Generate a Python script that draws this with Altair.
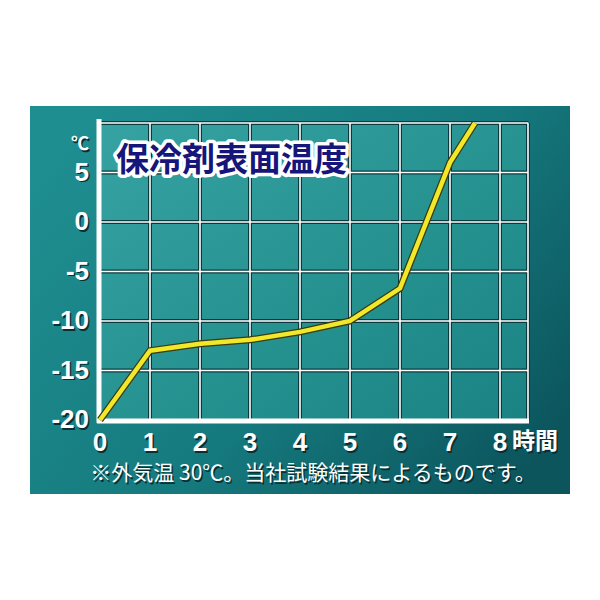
import altair as alt
import pandas as pd

# ---- data ----
hours = [0, 1, 2, 3, 4, 5, 6, 7, 7.5]
temps = [-20, -13, -12.3, -11.9, -11.1, -10, -6.7, 6, 10]
x_ticks = [0, 1, 2, 3, 4, 5, 6, 7, 8]
y_ticks = [-20, -15, -10, -5, 0, 5, 10]
y_label_vals = [-20, -15, -10, -5, 0, 5]
title_text = "保冷剤表面温度"
x_unit = "時間"
y_unit = "℃"
note_text = "※外気温 30℃。当社試験結果によるものです。"

X_MAX = 8.56
W, H = 428, 297

line_df = pd.DataFrame({"h": hours, "t": temps})
xt_df = pd.DataFrame({"h": x_ticks[1:] + [X_MAX]})
yt_df = pd.DataFrame({"t": y_ticks[1:]})
xl_df = pd.DataFrame({"h": x_ticks, "lab": [str(v) for v in x_ticks]})
yl_df = pd.DataFrame({"t": y_label_vals, "lab": [str(v) for v in y_label_vals]})

xs = alt.Scale(domain=[0, X_MAX], nice=False, zero=False)
ys = alt.Scale(domain=[-20, 10], nice=False, zero=False)
base_x = alt.X("h:Q", scale=xs, axis=None)
base_y = alt.Y("t:Q", scale=ys, axis=None)

one = pd.DataFrame({"a": [0]})

panel_grad = alt.LinearGradient(
    gradient="linear",
    stops=[alt.GradientStop(color="#1f8e90", offset=0),
           alt.GradientStop(color="#157a7e", offset=0.55),
           alt.GradientStop(color="#0c555d", offset=1)],
    x1=0, x2=1, y1=0.2, y2=0.8)
panel = alt.Chart(one).mark_rect(fill=panel_grad, clip=False).encode(
    x=alt.value(-70), x2=alt.value(470), y=alt.value(-17), y2=alt.value(371))

plot_grad = alt.LinearGradient(
    gradient="linear",
    stops=[alt.GradientStop(color="#36a2a2", offset=0),
           alt.GradientStop(color="#24918f", offset=0.6),
           alt.GradientStop(color="#1b8283", offset=1)],
    x1=0, x2=1, y1=0, y2=1)
plotbg = alt.Chart(one).mark_rect(fill=plot_grad).encode(
    x=alt.value(0), x2=alt.value(W), y=alt.value(0), y2=alt.value(H))

vgrid_dark = alt.Chart(xt_df).mark_rule(color="#0a3a3e", strokeWidth=4).encode(x=base_x)
vgrid = alt.Chart(xt_df).mark_rule(color="#ffffff", strokeWidth=1.6).encode(x=base_x)
hgrid_dark = alt.Chart(yt_df).mark_rule(color="#0a3a3e", strokeWidth=4).encode(y=base_y)
hgrid = alt.Chart(yt_df).mark_rule(color="#ffffff", strokeWidth=1.6).encode(y=base_y)

left_axis = alt.Chart(one).mark_rule(color="#ffffff", strokeWidth=5, clip=False).encode(
    x=alt.value(-1), y=alt.value(-4), y2=alt.value(H + 3))
bottom_axis = alt.Chart(one).mark_rule(color="#ffffff", strokeWidth=5, clip=False).encode(
    y=alt.value(H + 1), x=alt.value(-3), x2=alt.value(W + 1))

line_dark = alt.Chart(line_df).mark_line(color="#3a3a10", strokeWidth=7, strokeJoin="miter").encode(
    x=base_x, y=base_y)
line = alt.Chart(line_df).mark_line(color="#f2e82a", strokeWidth=4.5, strokeJoin="miter").encode(
    x=base_x, y=base_y)

NUM_FONT = "Liberation Sans"
CJK = "Noto Sans CJK JP"

def shadowed(chart_fn):
    return chart_fn("#0a2f33", 1.5) + chart_fn("#ffffff", 0)

ylab = shadowed(lambda c, o: alt.Chart(yl_df).mark_text(
    font=NUM_FONT, fontSize=26, fontWeight="bold", color=c, align="right",
    baseline="middle", clip=False, dx=o, dy=o).encode(
    x=alt.value(-11), y=base_y, text="lab:N"))

xlab = shadowed(lambda c, o: alt.Chart(xl_df).mark_text(
    font=NUM_FONT, fontSize=26, fontWeight="bold", color=c, align="center",
    baseline="middle", clip=False, dx=o, dy=o).encode(
    x=base_x, y=alt.value(H + 23), text="lab:N"))

xunit = shadowed(lambda c, o: alt.Chart(one).mark_text(
    font=CJK, fontSize=23, fontWeight="bold", color=c, align="left",
    baseline="middle", clip=False, dx=o, dy=o, text=x_unit).encode(
    x=alt.value(412), y=alt.value(H + 22)))

yunit = shadowed(lambda c, o: alt.Chart(one).mark_text(
    font=CJK, fontSize=18, fontWeight="bold", color=c, align="right",
    baseline="middle", clip=False, dx=o, dy=o, text=y_unit).encode(
    x=alt.value(-11), y=alt.value(22)))

note = shadowed(lambda c, o: alt.Chart(one).mark_text(
    font=CJK, fontSize=21, color=c, align="center",
    baseline="middle", clip=False, dx=o, dy=o, text=note_text).encode(
    x=alt.value(213), y=alt.value(H + 54)))

title_outline = alt.Chart(one).mark_text(
    font=CJK, fontSize=33, fontWeight="bold", color="#ffffff", stroke="#ffffff",
    strokeWidth=7, strokeJoin="round", align="left", baseline="middle", text=title_text).encode(
    x=alt.value(16), y=alt.value(38))
title_main = alt.Chart(one).mark_text(
    font=CJK, fontSize=33, fontWeight="bold", color="#15157a", align="left",
    baseline="middle", text=title_text).encode(
    x=alt.value(16), y=alt.value(38))

chart = alt.layer(
    panel, plotbg, hgrid_dark, vgrid_dark, hgrid, vgrid, left_axis, bottom_axis,
    line_dark, line, ylab, xlab, xunit, yunit, note, title_outline, title_main
).properties(
    width=W, height=H,
    padding={"left": 92, "top": 115, "right": 64, "bottom": 160},
    autosize=alt.AutoSizeParams(type="none"),
    background="#ffffff",
).configure_view(stroke=None)

chart.save("out.html", embed_options={"renderer": "svg", "actions": False})
